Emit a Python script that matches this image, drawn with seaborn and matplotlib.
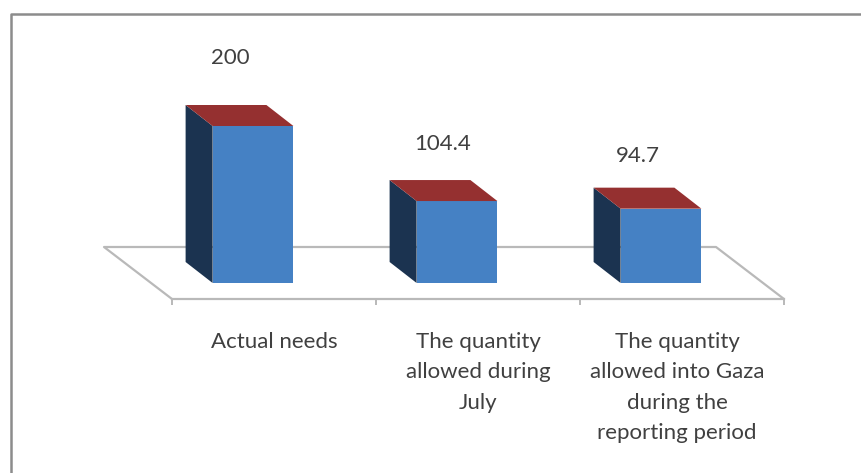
import matplotlib
matplotlib.use('Agg')
import matplotlib.pyplot as plt
from matplotlib.lines import Line2D
from matplotlib.transforms import ScaledTranslation
import seaborn as sns

categories = ['Actual needs',
              'The quantity\nallowed during\nJuly',
              'The quantity\nallowed into Gaza\nduring the\nreporting period']
values = [200, 104.4, 94.7]
value_labels = ['200', '104.4', '94.7']

W, H = 861, 473
PX_X = 204.0       # pixels per category
PX_Y = 0.785       # pixels per unit
FRONT_OFF = 21     # floor front edge sits this far right of the bars
GREY = '#b9b9b9'
TEXT = '#404040'

sns.set_style('white')
plt.rcParams['font.family'] = ['Lato', 'DejaVu Sans']

fig = plt.figure(figsize=(W / 100, H / 100), dpi=100)

# axes placed so that category 0 is at x=253px and value 0 at y=283px
xlim = (-0.75, 2.75)
ylim = (-16 / PX_Y, 250 / PX_Y)
left = 253 + xlim[0] * PX_X
bottom = H - 283 + ylim[0] * PX_Y
ax = fig.add_axes([left / W, bottom / H, (xlim[1] - xlim[0]) * PX_X / W, (ylim[1] - ylim[0]) * PX_Y / H])

sns.barplot(x=categories, y=values, color='#4581c4', saturation=1, width=0.396, linewidth=0, ax=ax, zorder=3)
ax.set_xlim(xlim)
ax.set_ylim(ylim)
ax.patch.set_alpha(0)

# fake 3d faces built from the seaborn bars
dx = 27 / PX_X
dy = 21 / PX_Y
for bar in ax.patches:
    x0 = bar.get_x()
    x1 = x0 + bar.get_width()
    h = bar.get_height()
    ax.fill([x0, x0 - dx, x0 - dx, x0], [0, dy, h + dy, h], color='#1b3350', lw=0, zorder=3)
    ax.fill([x0, x0 - dx, x1 - dx, x1], [h, h + dy, h + dy, h], color='#953030', lw=0, zorder=3)

# floor
edges = [i - 0.5 + FRONT_OFF / PX_X for i in range(len(categories) + 1)]
front_y = ylim[0]
back_y = front_y + 52 / PX_Y
back_dx = 68 / PX_X
ax.plot([edges[0], edges[0] - back_dx, edges[-1] - back_dx, edges[-1]],
        [front_y, back_y, back_y, front_y], color=GREY, lw=1.6, zorder=1, clip_on=False)

sns.despine(ax=ax, left=True, top=True, right=True)
ax.spines['bottom'].set_bounds(edges[0], edges[-1])
ax.spines['bottom'].set_color(GREY)
ax.spines['bottom'].set_linewidth(1.6)
ax.set_yticks([])
ax.set_xticks(edges, minor=True)
ax.tick_params(axis='x', which='minor', length=4.5, width=1.4, color=GREY, bottom=True)
ax.tick_params(axis='x', which='major', length=0, pad=23.5, labelsize=16, labelcolor=TEXT)

# category labels sit under the floor, not under the bars
label_shift = [21, 21, 16]
for lab, s in zip(ax.get_xticklabels(), label_shift):
    lab.set_transform(lab.get_transform() + ScaledTranslation(s / 100, 0, fig.dpi_scale_trans))
    lab.set_linespacing(1.66)

label_dx = [-23, -14, -23]
label_lift = [68, 57, 53]
for bar, txt, ox, oy in zip(ax.patches, value_labels, label_dx, label_lift):
    ax.annotate(txt, (bar.get_x() + bar.get_width() / 2, bar.get_height()),
                xytext=(ox * 0.72, oy * 0.72), textcoords='offset points',
                ha='center', va='center', fontsize=16, color=TEXT)

# picture frame, only top and left survive the crop
fig.add_artist(Line2D([10.5 / W, 10.5 / W, 1], [0, 1 - 14.5 / H, 1 - 14.5 / H], color='#8c8c8c', lw=1.8))

fig.savefig('out.png', dpi=100)
